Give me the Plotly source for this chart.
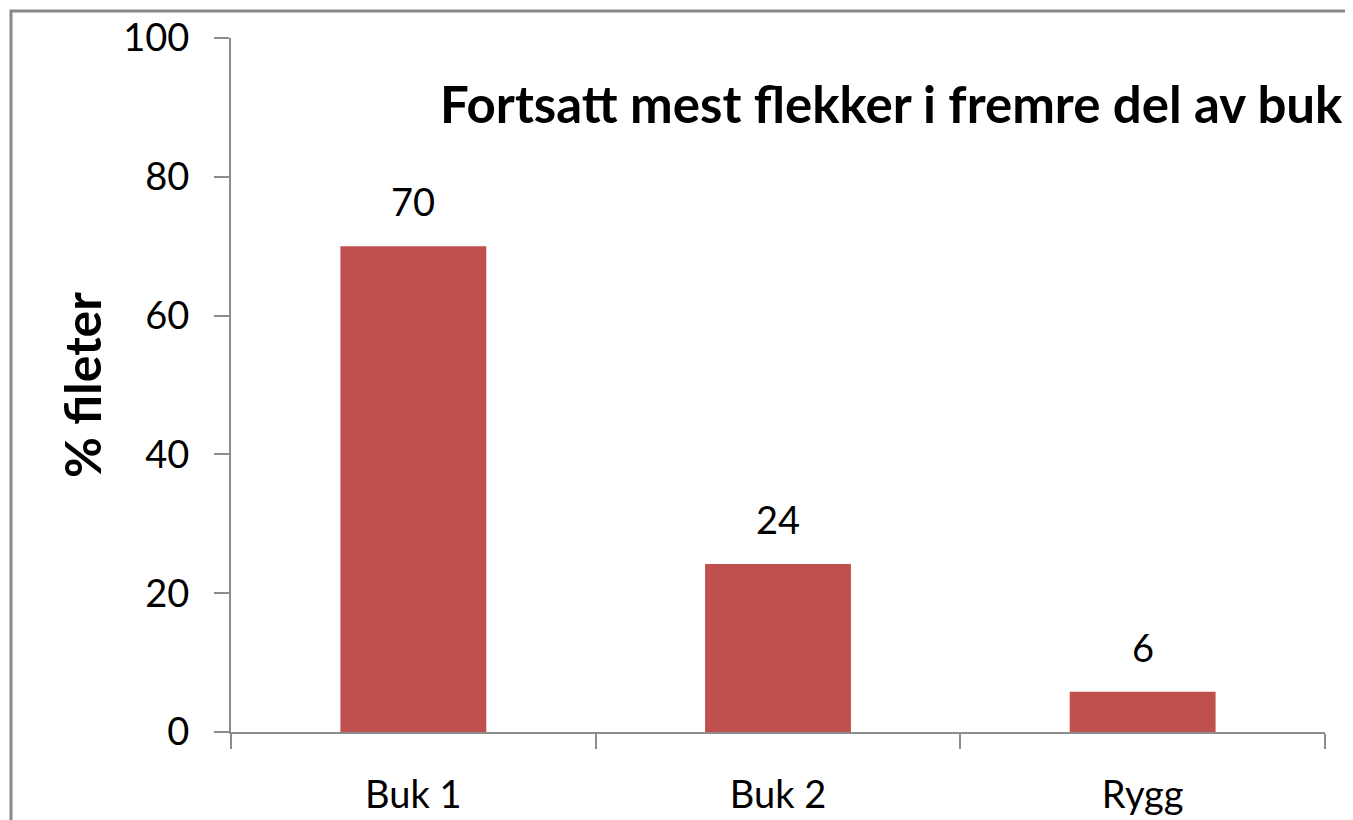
import plotly.graph_objects as go

categories = ["Buk 1", "Buk 2", "Rygg"]
values = [70, 24.2, 5.8]
labels = ["70", "24", "6"]
y_ticks = [0, 20, 40, 60, 80, 100]

title_text = "Fortsatt mest flekker i fremre del av buk"
y_title = "% fileter"

FONT = "Lato"
AX = "#8c8c8c"

fig = go.Figure()
fig.add_trace(go.Bar(
    x=categories, y=values, width=0.4,
    marker=dict(color="#C0504D", line=dict(width=0)),
    hoverinfo="skip",
))

for c, v, t in zip(categories, values, labels):
    fig.add_annotation(x=c, y=v, text=t, showarrow=False, yanchor="bottom",
                       yshift=20, font=dict(family=FONT, size=38, color="#000"))

fig.add_annotation(xref="paper", yref="paper", x=1.0183, y=0.906, xanchor="right",
                   yanchor="middle", text="<b>" + title_text + "</b>", showarrow=False,
                   font=dict(family=FONT, size=51, color="#000"))

fig.add_shape(type="rect", xref="paper", yref="paper",
              x0=-0.2011, x1=1.2, y0=-0.3, y1=1.0389,
              line=dict(color="#888888", width=3), fillcolor="rgba(0,0,0,0)",
              layer="above")

# the page body adds an 8px margin, so the figure is sized 8px smaller
fig.update_layout(
    width=1345, height=812,
    margin=dict(l=223, r=28, t=30, b=88, autoexpand=False),
    paper_bgcolor="white", plot_bgcolor="white",
    showlegend=False,
    font=dict(family=FONT, color="#000"),
    xaxis=dict(
        range=[-0.5, 2.5], tickson="boundaries", ticks="outside", ticklen=15,
        tickcolor=AX, tickwidth=2, showline=True, linecolor=AX, linewidth=2,
        showgrid=False, tickfont=dict(family=FONT, size=38), ticklabelstandoff=28,
        automargin=False,
    ),
    yaxis=dict(
        range=[0, 100], tickvals=y_ticks, ticks="outside", ticklen=15,
        tickcolor=AX, tickwidth=2, showline=True, linecolor=AX, linewidth=2,
        showgrid=False, zeroline=False, tickfont=dict(family=FONT, size=38),
        ticklabelstandoff=17, automargin=False,
        title=dict(text="<b>" + y_title + "</b>", font=dict(family=FONT, size=50),
                   standoff=6),
    ),
)

fig.write_html("out.html")
